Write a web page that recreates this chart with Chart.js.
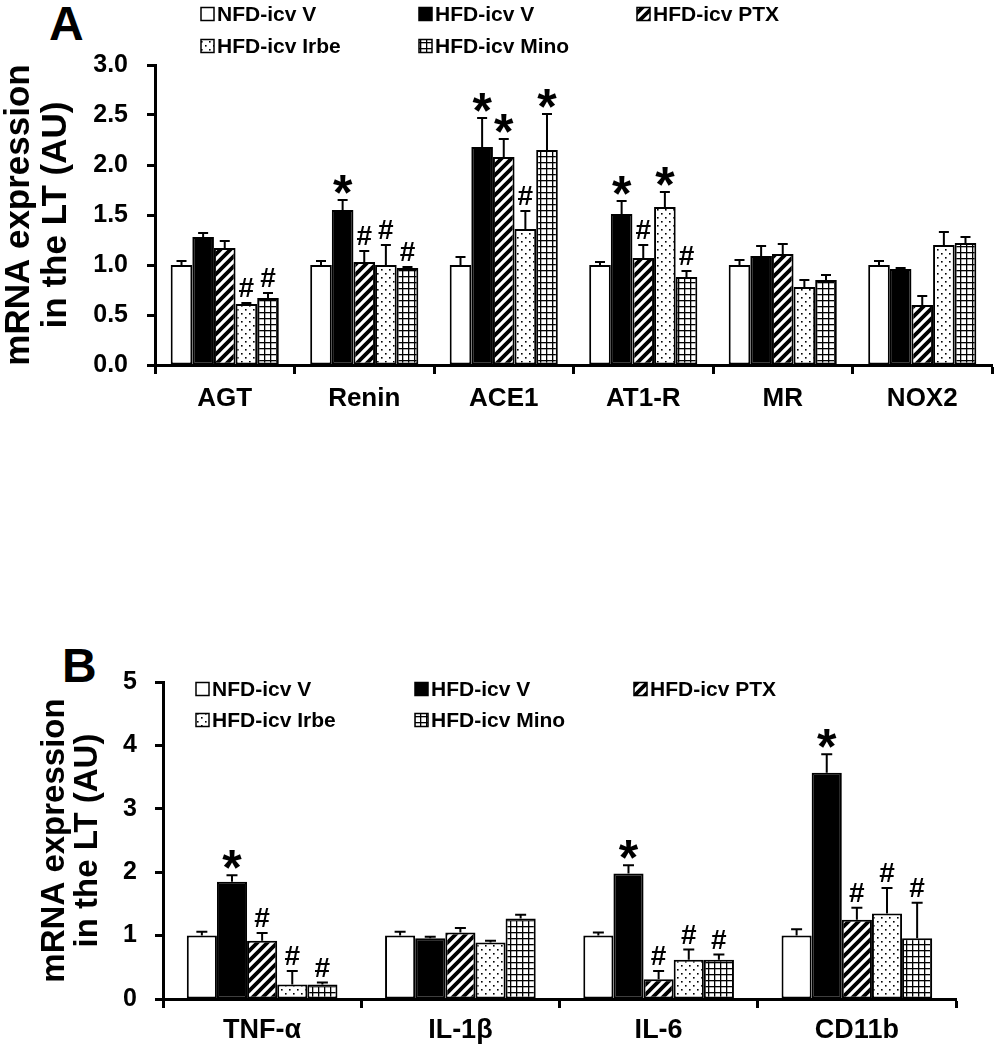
<!DOCTYPE html>
<html><head><meta charset="utf-8">
<script src="https://cdn.jsdelivr.net/npm/chart.js@4.4.1/dist/chart.umd.min.js"></script>
<style>
html,body{margin:0;padding:0;background:#fff;}
body{width:994px;height:1050px;position:relative;overflow:hidden;font-family:"Liberation Sans",Arial,sans-serif;}
.pl{position:absolute;font-weight:bold;font-size:48px;line-height:1;color:#000;}
canvas{position:absolute;left:0;}
</style></head><body>
<div class="pl" style="left:49px;top:0px">A</div>
<div class="pl" style="left:62px;top:642px">B</div>
<canvas id="cA" width="994" height="440" style="top:0"></canvas>
<canvas id="cB" width="994" height="430" style="top:620px"></canvas>
<script>
// ---------- data ----------
const seriesNames = ['NFD-icv V','HFD-icv V','HFD-icv PTX','HFD-icv Irbe','HFD-icv Mino'];
const yTitle = ['mRNA expression','in the LT (AU)'];

// Panel A
const categoriesA = ['AGT','Renin','ACE1','AT1-R','MR','NOX2'];
const yTicksA = ['0.0','0.5','1.0','1.5','2.0','2.5','3.0'];
const nfdA  = [1.00, 1.00, 1.00, 1.00, 1.00, 1.00];
const hfdA  = [1.28, 1.55, 2.18, 1.51, 1.09, 0.96];
const ptxA  = [1.17, 1.03, 2.08, 1.07, 1.11, 0.60];
const irbeA = [0.61, 1.00, 1.36, 1.58, 0.78, 1.20];
const minoA = [0.67, 0.97, 2.15, 0.88, 0.85, 1.22];
const nfdErrA  = [0.04, 0.04, 0.08, 0.03, 0.05, 0.04];
const hfdErrA  = [0.04, 0.10, 0.29, 0.13, 0.10, 0.01];
const ptxErrA  = [0.07, 0.11, 0.18, 0.13, 0.10, 0.09];
const irbeErrA = [0.01, 0.20, 0.18, 0.15, 0.07, 0.13];
const minoErrA = [0.05, 0.01, 0.36, 0.06, 0.05, 0.06];
const nfdSigA  = ['', '', '', '', '', ''];
const hfdSigA  = ['', '*', '*', '*', '', ''];
const ptxSigA  = ['', '#', '*', '#', '', ''];
const irbeSigA = ['#', '#', '#', '*', '', ''];
const minoSigA = ['#', '#', '*', '#', '', ''];

// Panel B
const categoriesB = ['TNF-\u03b1','IL-1\u03b2','IL-6','CD11b'];
const yTicksB = ['0','1','2','3','4','5'];
const nfdB  = [1.00, 1.00, 1.00, 1.00];
const hfdB  = [1.85, 0.96, 1.98, 3.57];
const ptxB  = [0.92, 1.05, 0.31, 1.25];
const irbeB = [0.23, 0.89, 0.62, 1.35];
const minoB = [0.23, 1.27, 0.62, 0.96];
const nfdErrB  = [0.06, 0.06, 0.05, 0.10];
const hfdErrB  = [0.10, 0.02, 0.13, 0.29];
const ptxErrB  = [0.12, 0.07, 0.13, 0.19];
const irbeErrB = [0.21, 0.03, 0.16, 0.40];
const minoErrB = [0.03, 0.06, 0.08, 0.56];
const nfdSigB  = ['', '', '', ''];
const hfdSigB  = ['*', '', '*', '*'];
const ptxSigB  = ['#', '', '#', '#'];
const irbeSigB = ['#', '', '#', '#'];
const minoSigB = ['#', '', '#', '#'];

// ---------- patterns ----------
const FONT = '"Liberation Sans", Arial, sans-serif';
function tile(w, h, draw) {
  const c = document.createElement('canvas'); c.width = w; c.height = h;
  const g = c.getContext('2d'); g.fillStyle = '#fff'; g.fillRect(0, 0, w, h);
  g.fillStyle = '#000'; g.strokeStyle = '#000'; draw(g, w, h);
  return document.createElement('canvas').getContext('2d').createPattern(c, 'repeat');
}
const stripes = tile(10, 10, (g, w, h) => {
  g.lineWidth = 3.8; g.lineCap = 'square';
  g.beginPath();
  for (let k = -1; k <= 1; k++) { g.moveTo(k * w - 2, h + 2); g.lineTo(k * w + w + 2, -2); }
  g.stroke();
});
const dots = tile(8, 8, (g) => { g.fillRect(1, 1, 1.6, 1.6); g.fillRect(5, 5, 1.6, 1.6); });
const grid = tile(6, 6, (g) => { g.fillRect(0, 0, 6, 1.3); g.fillRect(0, 0, 1.3, 6); });
const fills = ['#ffffff', '#000000', stripes, dots, grid];

// ---------- plugins ----------
const gridLegend = {
  id: 'gridLegend',
  afterDraw(chart, args, o) {
    const ctx = chart.ctx;
    ctx.save();
    ctx.font = `bold ${o.fontSize}px ${FONT}`;
    ctx.textBaseline = 'middle'; ctx.textAlign = 'left';
    chart.data.datasets.forEach((ds, i) => {
      const col = i % 3, row = Math.floor(i / 3);
      const x = o.x0 + col * o.colW, y = o.y0 + row * o.rowH, b = o.box;
      ctx.fillStyle = ds.backgroundColor; ctx.fillRect(x, y - b / 2, b, b);
      ctx.lineWidth = 1.5; ctx.strokeStyle = '#000'; ctx.strokeRect(x, y - b / 2, b, b);
      ctx.fillStyle = '#000'; ctx.fillText(ds.label, x + b + 3, y + 1);
    });
    ctx.restore();
  }
};
const errMarks = {
  id: 'errMarks',
  afterDatasetsDraw(chart, args, o) {
    const ctx = chart.ctx, ys = chart.scales.y;
    chart.data.datasets.forEach((ds, i) => {
      chart.getDatasetMeta(i).data.forEach((bar, j) => {
        const v = ds.data[j], e = ds.err[j];
        const yTop = ys.getPixelForValue(v), yCap = ys.getPixelForValue(v + e);
        ctx.save();
        ctx.strokeStyle = '#000'; ctx.lineWidth = o.lw;
        ctx.beginPath();
        ctx.moveTo(bar.x, yTop); ctx.lineTo(bar.x, yCap);
        ctx.moveTo(bar.x - o.cap / 2, yCap); ctx.lineTo(bar.x + o.cap / 2, yCap);
        ctx.stroke();
        const s = ds.sig[j];
        if (s) {
          ctx.font = s === '*' ? o.starFont : o.hashFont;
          ctx.textAlign = 'center'; ctx.textBaseline = 'alphabetic';
          const m = ctx.measureText(s);
          const y = yCap - o.gap - m.actualBoundingBoxDescent;
          ctx.fillStyle = '#000'; ctx.fillText(s, bar.x, y);
        }
        ctx.restore();
      });
    });
  }
};

function makeDatasets(vals, errs, sigs) {
  return seriesNames.map((n, i) => ({
    label: n, data: vals[i], err: errs[i], sig: sigs[i],
    backgroundColor: fills[i], borderColor: '#000', borderWidth: 2, borderSkipped: false
  }));
}

function makeChart(id, cfg) {
  const f = (s) => ({ family: FONT, weight: 'bold', size: s });
  return new Chart(document.getElementById(id), {
    type: 'bar',
    data: { labels: cfg.labels, datasets: makeDatasets(cfg.vals, cfg.errs, cfg.sigs) },
    plugins: [gridLegend, errMarks],
    options: {
      responsive: false, animation: false, devicePixelRatio: 1,
      layout: { padding: cfg.padding },
      datasets: { bar: { categoryPercentage: cfg.catPct, barPercentage: 1 } },
      plugins: {
        legend: { display: false }, tooltip: { enabled: false },
        gridLegend: cfg.legend,
        errMarks: cfg.err
      },
      scales: {
        x: {
          grid: { display: true, drawOnChartArea: false, drawTicks: true, tickLength: 9, tickWidth: 3, tickColor: '#000', offset: true },
          border: { display: true, color: '#000', width: 3 },
          ticks: { font: f(cfg.xFont), color: '#000', padding: cfg.xPad, maxRotation: 0, autoSkip: false },
          afterFit: (s) => { s.height = cfg.xH; }
        },
        y: {
          min: 0, max: cfg.yMax,
          grid: { drawOnChartArea: false, drawTicks: true, tickLength: 8, tickWidth: 3, tickColor: '#000' },
          border: { display: true, color: '#000', width: 3 },
          ticks: { stepSize: cfg.step, font: f(cfg.yFont), color: '#000', padding: cfg.yPad,
                   callback: (v, i) => cfg.yTicks[i] },
          title: { display: true, text: yTitle, color: '#000',
                   font: { family: FONT, weight: 'bold', size: cfg.tFont, lineHeight: cfg.tLH },
                   padding: { top: cfg.tPad, bottom: 0 } },
          afterFit: (s) => { s.width = cfg.yW; }
        }
      }
    }
  });
}

makeChart('cA', {
  labels: categoriesA,
  vals: [nfdA, hfdA, ptxA, irbeA, minoA],
  errs: [nfdErrA, hfdErrA, ptxErrA, irbeErrA, minoErrA],
  sigs: [nfdSigA, hfdSigA, ptxSigA, irbeSigA, minoSigA],
  padding: { top: 65, right: 2, left: 0, bottom: 0 },
  catPct: 0.775, yMax: 3, step: 0.5, yTicks: yTicksA,
  xFont: 26, xPad: 9, xH: 75, yFont: 25, yPad: 19, yW: 155,
  tFont: 35, tLH: 1.08, tPad: 0,
  legend: { x0: 201, y0: 14, colW: 218, rowH: 32, box: 13, fontSize: 21 },
  err: { lw: 2, cap: 10, gap: 6, starFont: `bold 50px ${FONT}`, hashFont: `bold 28px ${FONT}` }
});

makeChart('cB', {
  labels: categoriesB,
  vals: [nfdB, hfdB, ptxB, irbeB, minoB],
  errs: [nfdErrB, hfdErrB, ptxErrB, irbeErrB, minoErrB],
  sigs: [nfdSigB, hfdSigB, ptxSigB, irbeSigB, minoSigB],
  padding: { top: 62, right: 38, left: 0, bottom: 0 },
  catPct: 0.76, yMax: 5, step: 1, yTicks: yTicksB,
  xFont: 27, xPad: 6, xH: 51, yFont: 25, yPad: 18, yW: 163,
  tFont: 33, tLH: 1.0, tPad: 38,
  legend: { x0: 196, y0: 69, colW: 219, rowH: 31, box: 13, fontSize: 21 },
  err: { lw: 2, cap: 11, gap: 6, starFont: `bold 50px ${FONT}`, hashFont: `bold 28px ${FONT}` }
});
</script>
</body></html>
